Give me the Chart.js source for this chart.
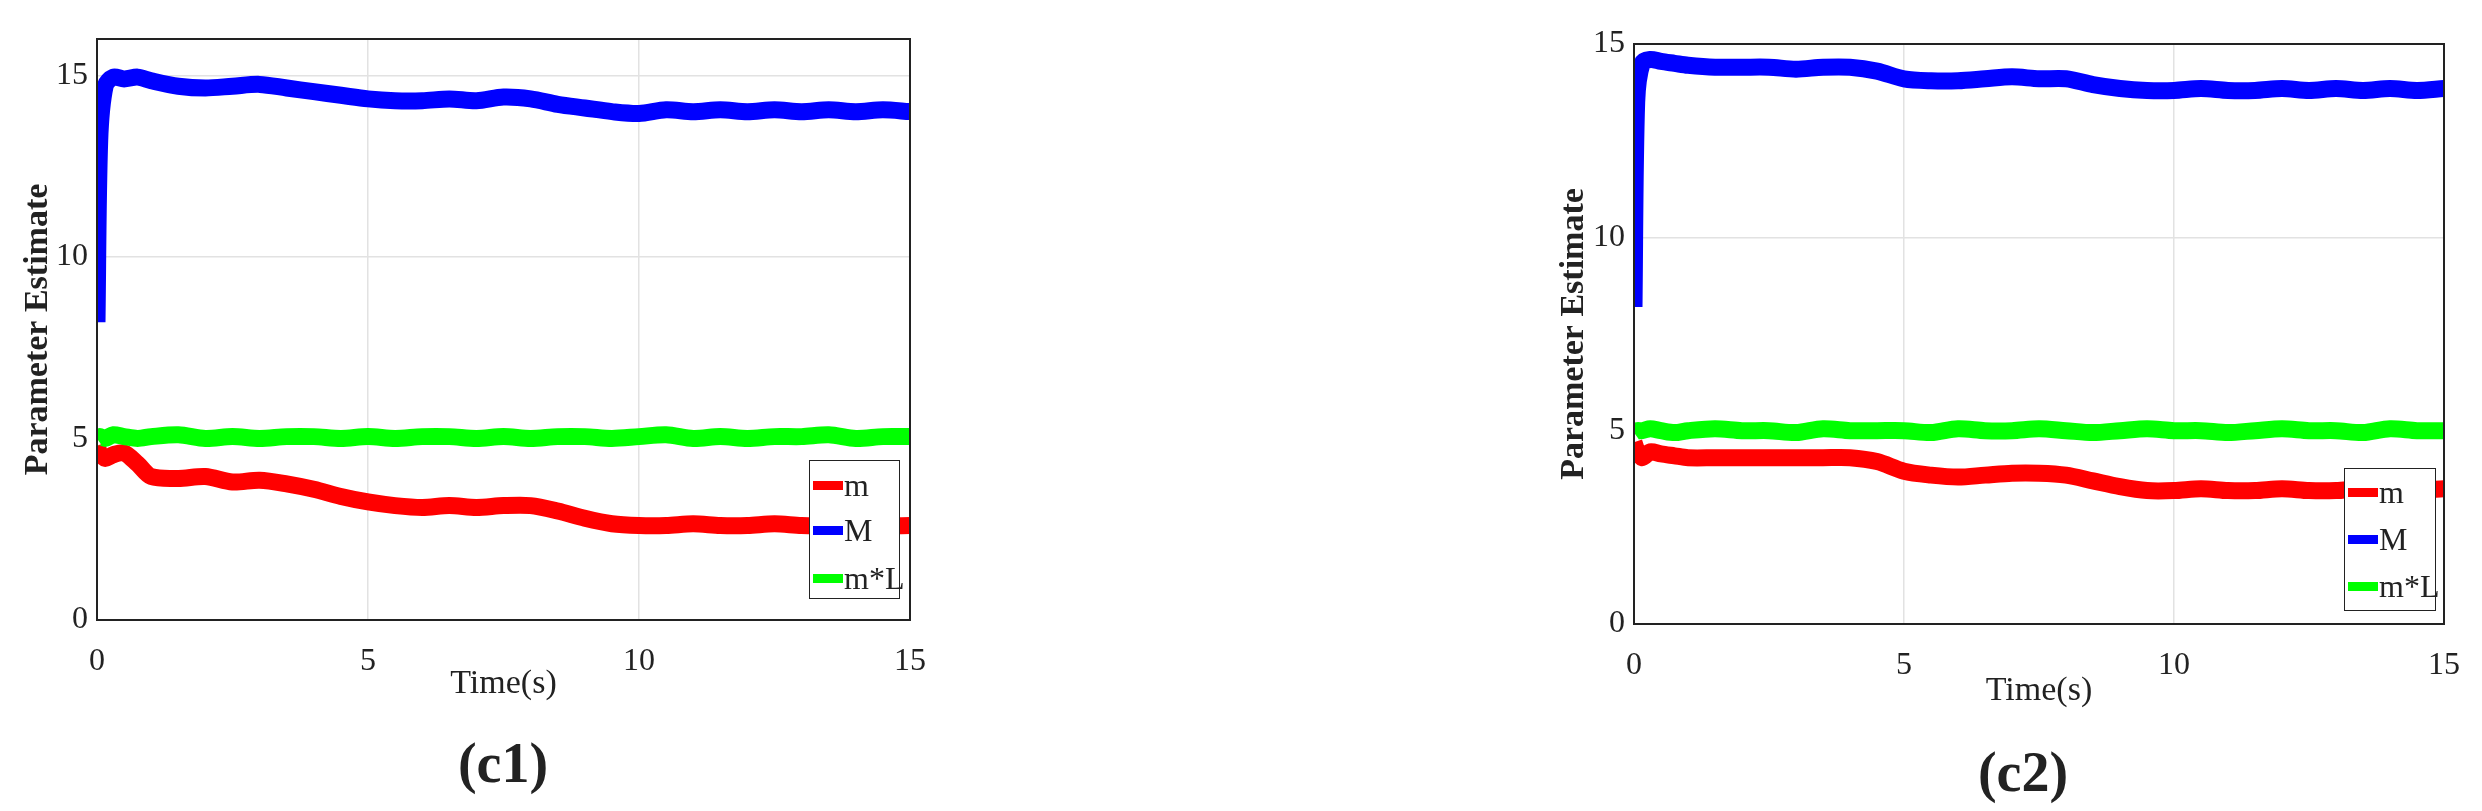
<!DOCTYPE html>
<html><head><meta charset="utf-8">
<script src="https://cdn.jsdelivr.net/npm/chart.js@4"></script>
<style>
body{margin:0;background:#fff;width:2482px;height:811px;position:relative;overflow:hidden;font-family:"Liberation Serif",serif;color:#222}
canvas{position:absolute;top:0}
.lbl{position:absolute;font-weight:bold;font-size:56px;transform:translate(-50%,-50%);white-space:nowrap}
.leg{position:absolute;border:1.5px solid #222;background:#fff;box-sizing:border-box}
.row{position:absolute;left:3px;height:36px;display:flex;align-items:center;font-size:32px}
.sw{width:30px;height:9px;margin-right:1px}
</style></head><body>
<div id="w1" style="position:absolute;left:0;top:0;width:1000px;height:811px"><canvas id="c1"></canvas></div>
<div id="w2" style="position:absolute;left:1500px;top:0;width:982px;height:811px"><canvas id="c2"></canvas></div>
<div class="lbl" style="left:503px;top:763px">(c1)</div>
<div class="lbl" style="left:2023px;top:772px">(c2)</div>
<div id="leg1" class="leg" style="left:809px;top:460px;width:91px;height:139px"></div>
<div id="leg2" class="leg" style="left:2344px;top:468px;width:92px;height:143px"></div>
<script>
const time = [0,0.05,0.15,0.3,0.5,0.75,1,1.5,2,2.5,3,3.5,4,4.5,5,5.5,6,6.5,7,7.5,8,8.5,9,9.5,10,10.5,11,11.5,12,12.5,13,13.5,14,14.5,15];
const seriesNames = ["m","M","m*L"];
const seriesColors = ["#ff0000","#0000ff","#00ff00"];
const xTicks = [0,5,10,15];
const yTicks = [0,5,10,15];
// (c1)
const c1_m  = [4.8,4.6,4.45,4.55,4.6,4.3,3.95,3.9,3.95,3.8,3.85,3.75,3.6,3.4,3.25,3.15,3.1,3.15,3.1,3.15,3.15,3.0,2.8,2.65,2.6,2.6,2.65,2.6,2.6,2.65,2.6,2.6,2.65,2.6,2.6];
const c1_M  = [8.2,13.2,14.7,14.95,14.9,14.95,14.85,14.7,14.65,14.7,14.75,14.65,14.55,14.45,14.35,14.3,14.3,14.35,14.3,14.4,14.35,14.2,14.1,14.0,13.95,14.05,14.0,14.05,14.0,14.05,14.0,14.05,14.0,14.05,14.0];
const c1_mL = [5.0,5.05,5.0,5.1,5.05,5.0,5.05,5.1,5.0,5.05,5.0,5.05,5.05,5.0,5.05,5.0,5.05,5.05,5.0,5.05,5.0,5.05,5.05,5.0,5.05,5.1,5.0,5.05,5.0,5.05,5.05,5.1,5.0,5.05,5.05];
// (c2)
const c2_m  = [4.7,4.5,4.3,4.45,4.4,4.35,4.3,4.3,4.3,4.3,4.3,4.3,4.3,4.2,3.95,3.85,3.8,3.85,3.9,3.9,3.85,3.7,3.55,3.45,3.45,3.5,3.45,3.45,3.5,3.45,3.45,3.5,3.45,3.45,3.5];
const c2_M  = [8.2,13.5,14.5,14.6,14.55,14.5,14.45,14.4,14.4,14.4,14.35,14.4,14.4,14.3,14.1,14.05,14.05,14.1,14.15,14.1,14.1,13.95,13.85,13.8,13.8,13.85,13.8,13.8,13.85,13.8,13.85,13.8,13.85,13.8,13.85];
const c2_mL = [4.95,5.0,5.0,5.05,5.0,4.95,5.0,5.05,5.0,5.0,4.95,5.05,5.0,5.0,5.0,4.95,5.05,5.0,5.0,5.05,5.0,4.95,5.0,5.05,5.0,5.0,4.95,5.0,5.05,5.0,5.0,4.95,5.05,5.0,5.0];

const boxPlugin = {id:'box',afterDraw(c){const a=c.chartArea,x=c.ctx;x.save();x.strokeStyle='#222';x.lineWidth=2;x.strokeRect(a.left,a.top,a.right-a.left,a.bottom-a.top);x.restore();}};

function make(id, vals, cfg){
  const ds = vals.map((v,i)=>({label:seriesNames[i],data:time.map((t,k)=>({x:t,y:v[k]})),borderColor:seriesColors[i],borderWidth:17,pointRadius:0,tension:0.3,fill:false,order:[2,3,1][i]}));
  new Chart(document.getElementById(id),{type:'line',data:{datasets:ds},plugins:[boxPlugin],
    options:{responsive:true,maintainAspectRatio:false,animation:false,
      layout:{padding:{top:cfg.top,right:cfg.right,left:0,bottom:0}},
      plugins:{legend:{display:false},tooltip:{enabled:false}},
      scales:{
        x:{type:'linear',min:0,max:15,afterBuildTicks:s=>{s.ticks=xTicks.map(v=>({value:v}));},
           afterFit:s=>{s.height=cfg.xh;},
           grid:{color:'#e2e2e2',lineWidth:1.5,drawTicks:false},border:{display:false},
           ticks:{padding:22,color:'#222',font:{family:'Liberation Serif',size:32},maxRotation:0},
           title:{display:true,text:'Time(s)',color:'#222',font:{family:'Liberation Serif',size:34},padding:{top:0,bottom:cfg.tb}}},
        y:{min:0,max:cfg.ymax,afterBuildTicks:s=>{s.ticks=yTicks.map(v=>({value:v}));},
           afterFit:s=>{s.width=cfg.yw;},
           grid:{color:'#e2e2e2',lineWidth:1.5,drawTicks:false},border:{display:false},
           ticks:{padding:9,color:'#222',font:{family:'Liberation Serif',size:32}},
           title:{display:true,text:'Parameter Estimate',color:'#222',font:{family:'Liberation Serif',size:34,weight:'bold'},padding:{top:cfg.tp,bottom:0}}}
      }}});
}
make('c1',[c1_m,c1_M,c1_mL],{top:39,right:90,xh:191,yw:97,ymax:16,tb:107,tp:18});
make('c2',[c2_m,c2_M,c2_mL],{top:44,right:37,xh:187,yw:134,ymax:15,tb:100,tp:54});

function legend(id,tops){
  const el=document.getElementById(id);
  seriesNames.forEach((n,i)=>{const r=document.createElement('div');r.className='row';r.style.top=tops[i]+'px';
    r.innerHTML='<div class="sw" style="background:'+seriesColors[i]+'"></div><span>'+n+'</span>';el.appendChild(r);});
}
legend('leg1',[6,51,99]);
legend('leg2',[5,52,99]);
</script></body></html>
